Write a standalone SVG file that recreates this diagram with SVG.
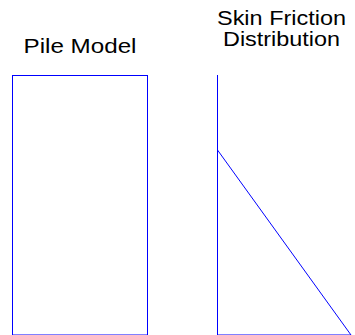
<svg xmlns="http://www.w3.org/2000/svg" width="355" height="335" viewBox="0 0 355 335">
<style>
.t{font-family:"Liberation Sans",Arial,sans-serif;font-size:20.5px;fill:#000;text-anchor:middle}
.s{fill:none;stroke:#0000ff;stroke-width:1}
</style>
<rect width="355" height="335" fill="#fff"/>
<g id="pile-model">
<text class="t" x="80" y="53" textLength="113" lengthAdjust="spacingAndGlyphs">Pile Model</text>
<rect class="s" x="12.5" y="75.5" width="135" height="259.5"/>
</g>
<g id="skin-friction">
<text class="t" x="281.5" y="25" textLength="129" lengthAdjust="spacingAndGlyphs">Skin Friction</text>
<text class="t" x="281.5" y="46" textLength="117" lengthAdjust="spacingAndGlyphs">Distribution</text>
<path class="s" d="M217.5 75V335H351L217.5 150"/>
</g>
</svg>
